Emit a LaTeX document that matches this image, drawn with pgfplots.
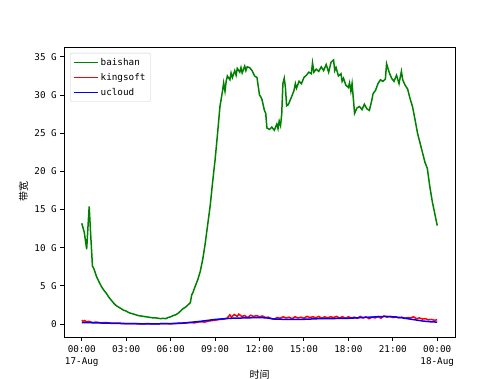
\documentclass[border=0pt]{standalone}
\usepackage{fontspec}
\setmainfont{DejaVu Sans Mono}
\newfontfamily\cjk{Noto Sans CJK SC}
\usepackage{pgfplots}
\pgfplotsset{compat=1.18}
\definecolor{mgreen}{HTML}{008000}
\begin{document}
\fontsize{9}{11}\selectfont
\begin{tikzpicture}[x=1pt,y=1pt]
\useasboundingbox (0,0) rectangle (500,379);
\begin{axis}[at={(64pt,42pt)}, anchor=south west, scale only axis,
  width=391pt, height=290pt,
  xmin=-1.2, xmax=25.2, ymin=-1.7, ymax=36.3,
  xtick={0,3,6,9,12,15,18,21,24},
  xticklabels={{00:00\\17-Aug},03:00,06:00,09:00,12:00,15:00,18:00,21:00,{00:00\\18-Aug}},
  xticklabel style={align=center, font=\fontsize{9.3}{12}\selectfont, yshift=-1pt},
  ytick={0,5,10,15,20,25,30,35},
  yticklabels={0,5 G,10 G,15 G,20 G,25 G,30 G,35 G},
  yticklabel style={font=\fontsize{9.3}{11}\selectfont},
  tick align=outside, tick pos=left, major tick length=4pt,
  axis line style={line width=0.9pt}, every tick/.style={black, line width=0.9pt},
  xlabel={\cjk\fontsize{10}{12}\selectfont 时间}, ylabel={\cjk\fontsize{10}{12}\selectfont 带宽},
  xlabel style={yshift=2pt}, 
  legend cell align=left,
  legend style={at={(0,1)}, anchor=north west, xshift=6pt, yshift=-6pt,
    draw=black!20, rounded corners=2pt, font=\fontsize{9.3}{11}\selectfont,
    row sep=2.5pt, inner sep=3pt},
  legend image code/.code={\draw[#1] (0pt,0pt) -- (24pt,0pt);},
]
\addplot[mgreen, line width=1.5pt] coordinates {
(0.00,13.2)(0.17,12.0)(0.33,9.8)(0.50,15.4)(0.58,12.5)(0.72,7.6)(0.83,7.2)(1.00,6.2)(1.17,5.5)(1.33,4.9)
(1.50,4.4)(1.67,4.0)(1.83,3.5)(2.00,3.1)(2.17,2.7)(2.33,2.4)(2.50,2.2)(2.67,2.0)(2.83,1.8)(3.00,1.7)
(3.17,1.5)(3.33,1.4)(3.50,1.3)(3.67,1.2)(3.83,1.1)(4.00,1.05)(4.17,1.0)(4.33,0.95)(4.50,0.9)(4.67,0.85)
(4.83,0.8)(5.00,0.8)(5.17,0.75)(5.33,0.7)(5.50,0.75)(5.67,0.7)(5.83,0.85)(6.00,0.95)(6.17,1.1)(6.33,1.2)
(6.50,1.4)(6.67,1.7)(6.83,2.0)(7.00,2.2)(7.17,2.5)(7.33,2.8)(7.42,3.8)(7.50,4.1)(7.67,5.0)(7.83,5.8)
(8.00,6.9)(8.17,8.5)(8.33,10.5)(8.50,13.0)(8.67,15.5)(8.83,18.5)(9.00,21.5)(9.17,25.0)(9.33,28.5)(9.50,30.5)
(9.58,31.6)(9.67,30.5)(9.75,31.8)(9.83,32.5)(10.00,32.0)(10.08,32.9)(10.17,32.3)(10.33,33.2)(10.42,32.6)(10.50,33.5)
(10.67,33.0)(10.75,33.6)(10.83,32.9)(11.00,33.8)(11.08,33.2)(11.17,33.7)(11.33,33.6)(11.50,33.2)(11.67,32.5)(11.83,32.3)
(12.00,30.0)(12.08,29.8)(12.17,29.4)(12.33,28.0)(12.42,27.6)(12.50,25.7)(12.67,25.5)(12.83,25.8)(13.00,25.4)(13.17,26.2)
(13.25,25.6)(13.33,26.6)(13.42,26.0)(13.50,27.5)(13.58,31.5)(13.67,32.2)(13.75,31.0)(13.83,28.6)(13.92,28.7)(14.00,29.0)
(14.17,29.8)(14.33,30.6)(14.42,31.5)(14.50,30.9)(14.67,31.8)(14.83,31.5)(15.00,32.3)(15.17,32.6)(15.33,33.0)(15.50,32.8)
(15.58,34.2)(15.67,33.0)(15.83,33.4)(16.00,33.1)(16.17,33.7)(16.33,33.2)(16.50,34.0)(16.67,33.0)(16.83,34.3)(17.00,34.6)
(17.08,33.2)(17.17,33.6)(17.33,32.5)(17.50,32.8)(17.58,31.8)(17.67,32.2)(17.83,31.3)(18.00,31.0)(18.08,31.6)(18.17,30.5)
(18.25,31.5)(18.42,27.6)(18.58,28.3)(18.75,28.5)(18.92,28.1)(19.08,28.8)(19.25,28.2)(19.42,28.0)(19.58,29.3)(19.67,30.2)
(19.83,30.6)(20.00,31.5)(20.17,32.0)(20.33,31.8)(20.50,32.1)(20.58,34.1)(20.75,33.0)(20.92,32.2)(21.08,31.8)(21.25,32.6)
(21.42,31.5)(21.58,33.1)(21.67,32.0)(21.83,31.3)(22.00,30.8)(22.17,29.5)(22.33,28.5)(22.50,26.8)(22.67,25.0)(22.83,23.8)
(23.00,22.5)(23.17,21.2)(23.33,20.4)(23.50,18.0)(23.67,16.0)(23.83,14.5)(24.00,12.9)
};
\addlegendentry{baishan}
\addplot[red, line width=1.5pt] coordinates {
(0.0,0.5)(0.1,0.35)(0.2,0.45)(0.3,0.3)(0.5,0.35)(0.7,0.2)(1.0,0.25)(1.3,0.15)(1.6,0.2)(2.0,0.1)
(2.5,0.12)(3.0,0.05)(3.5,0.06)(4.0,0.03)(4.5,0.04)(5.0,0.02)(5.5,0.05)(6.0,0.03)(6.5,0.08)(7.0,0.12)
(7.3,0.2)(7.6,0.15)(8.0,0.3)(8.3,0.25)(8.6,0.4)(9.0,0.5)(9.3,0.6)(9.6,0.65)(9.8,0.75)(10.0,1.2)
(10.1,0.9)(10.3,1.25)(10.5,1.0)(10.6,1.3)(10.8,1.0)(11.0,1.1)(11.2,0.85)(11.4,1.15)(11.6,1.0)(11.8,1.1)
(12.0,0.95)(12.2,1.05)(12.4,0.85)(12.6,0.9)(12.8,0.7)(13.0,0.65)(13.2,0.85)(13.4,0.75)(13.6,0.95)(13.8,0.8)
(14.0,0.9)(14.2,0.7)(14.4,0.95)(14.6,0.8)(14.8,0.9)(15.0,0.75)(15.2,1.0)(15.4,0.85)(15.6,0.95)(15.8,0.8)
(16.0,1.0)(16.2,0.75)(16.4,0.95)(16.6,0.8)(16.8,0.95)(17.0,0.85)(17.2,1.0)(17.4,0.8)(17.6,0.95)(17.8,0.75)
(18.0,0.95)(18.2,0.8)(18.4,0.9)(18.6,0.75)(18.8,1.0)(19.0,0.8)(19.2,0.95)(19.4,0.7)(19.6,0.9)(19.8,0.8)
(20.0,1.0)(20.2,0.75)(20.4,1.05)(20.6,0.9)(20.8,1.0)(21.0,0.85)(21.2,0.95)(21.4,0.8)(21.6,0.9)(21.8,0.75)
(22.0,0.85)(22.2,0.8)(22.4,0.95)(22.6,0.7)(22.8,0.8)(23.0,0.65)(23.2,0.7)(23.4,0.55)(23.6,0.6)(23.8,0.5)(24.0,0.55)
};
\addlegendentry{kingsoft}
\addplot[blue, line width=1.5pt] coordinates {
(0,0.2)(1,0.15)(2,0.1)(3,0.05)(4,0.03)(5,0.03)(6,0.05)(7,0.15)(8,0.35)(9,0.6)(10,0.75)(11,0.8)(12,0.85)
(12.5,0.8)(13,0.65)(14,0.6)(15,0.62)(16,0.7)(17,0.72)(18,0.75)(19,0.85)(20,0.95)(20.5,1.0)(21,0.95)
(21.5,0.85)(22,0.7)(22.5,0.55)(23,0.4)(23.5,0.3)(24,0.25)
};
\addlegendentry{ucloud}
\end{axis}
\end{tikzpicture}
\end{document}
